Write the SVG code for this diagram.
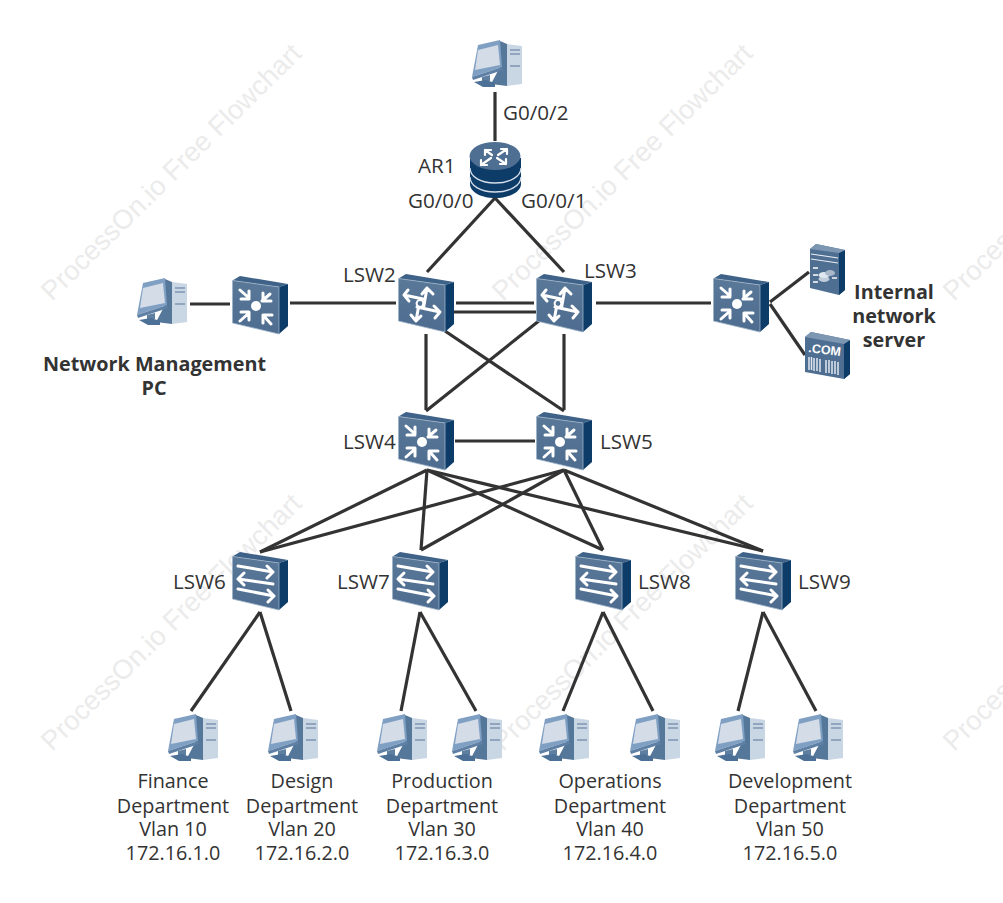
<svg xmlns="http://www.w3.org/2000/svg" width="1003" height="903" viewBox="0 0 1003 903">
<style>
text{font-family:"Open Sans","Noto Sans","Liberation Sans",sans-serif;font-size:19.8px;fill:#333}
.k{font-size:20.6px}
.b{font-weight:700}
.m{text-anchor:middle}
.wm{font-family:"Liberation Sans",Arial,sans-serif;font-size:27.2px;fill:#ebebeb}
.c line{stroke:#333;stroke-width:3.2;fill:none}
.g{fill:none;stroke:#fff;stroke-width:3;stroke-linecap:round;stroke-linejoin:round}
</style>
<defs>
<linearGradient id="fr" x1="0" y1="0" x2="0" y2="1"><stop offset="0" stop-color="#5a7898"/><stop offset="1" stop-color="#4d6c8f"/></linearGradient>
<g id="box">
<path d="M0.5 4.5L8 0L56 8L47 11Z" fill="#3f6288"/>
<path d="M47 11L56 8V50L47 58Z" fill="#0d3c69"/>
<path d="M0.5 4.5L47 11V58L0.5 47Z" fill="url(#fr)" stroke="#9db2c8" stroke-width="0.8"/>
</g>
<g id="core">
<use href="#box"/>
<circle cx="24" cy="30" r="5" fill="#fff"/>
<path class="g" d="M8 14L17 22M9 23H17V15M38 18L30 25M31 17V25H39M8 45L17 37M9 36H17V44M39 48L31 39M31 47V39H40"/>
</g>
<g id="l3">
<use href="#box"/>
<circle cx="22" cy="29.5" r="3.4" fill="none" stroke="#fff" stroke-width="2"/>
<path class="g" d="M10 16L6 21L11 27M6 21L25 25M24 20L29 14L35 20M29 14L25.5 34M36 32L42 38L37 44M42 38L19 33M13 41L18 47L23 42M18 47L20.5 33"/>
</g>
<g id="l2">
<use href="#box"/>
<path class="g" d="M6 14L41 20M35 14L41 20L35 26M41 32L6 27M12 21L6 27L12 33M6 37L42 44M36 38L42 44L36 50"/>
</g>
<g id="pc">
<path d="M31 2L38 5V47L22 45L31 28Z" fill="#557799"/>
<path d="M9 6L31 1L33 28L3 38Z" fill="#7f9fc3"/>
<path d="M3 38L33 28L34 31L4 41Z" fill="#5f80a5"/>
<path d="M9 11L29 6L31 26L6 31Z" fill="#d3dce7"/>
<path d="M13 38L21 36V42H13Z" fill="#5f7fa0"/>
<path d="M5 43L17 41L26 44V48L14 48Z" fill="#4d7097"/>
<path d="M38 5L53 7V45L38 47Z" fill="#c9d6e4"/>
<path d="M41 11H51M41 15H51M41 27H51" stroke="#7f97b1" stroke-width="1.3"/>
</g>
<g id="t">
<path d="M0 5L6 0L35 6V46L29 51L0 44Z" fill="#4f6f92"/>
<path d="M29 9L35 6V46L29 51Z" fill="#0d3c69"/>
<path d="M0 5L6 0L35 6L29 9Z" fill="#7d97b3"/>
<path d="M1 10L28 14M1 15L28 19" stroke="#e6ecf3" stroke-width="1.2"/>
<path d="M3 24H8M3 31H8M3 38H8" stroke="#fff" stroke-width="1.4"/>
<ellipse cx="14" cy="35" rx="5.5" ry="3" fill="#c0ccd9"/>
<ellipse cx="14" cy="31" rx="5.5" ry="3" fill="#dfe7ef"/>
<ellipse cx="20" cy="29" rx="5" ry="3" fill="#a9b9ca"/>
<path d="M22 34H27" stroke="#fff" stroke-width="1.4"/>
</g>
<g id="com">
<path d="M0 5L6 0L45 8V42L39 47L0 40Z" fill="#4f6f92"/>
<path d="M39 12L45 8V42L39 47Z" fill="#0d3c69"/>
<path d="M0 5L6 0L45 8L39 12Z" fill="#7d97b3"/>
<path d="M4 25V38M6.5 25V38M9 26V39M12 26V39M15 27V40M21 28V41M24 28V41M27 29V42M30 29V42M33 30V43" stroke="#dfe7ef" stroke-width="1.5"/>
</g>
</defs>

<g id="watermark">
<text class="wm" transform="translate(52,302) rotate(-44.5)">ProcessOn.io Free Flowchart</text>
<text class="wm" transform="translate(503,302) rotate(-44.5)">ProcessOn.io Free Flowchart</text>
<text class="wm" transform="translate(954,302) rotate(-44.5)">ProcessOn.io Free Flowchart</text>
<text class="wm" transform="translate(52,752) rotate(-44.5)">ProcessOn.io Free Flowchart</text>
<text class="wm" transform="translate(503,752) rotate(-44.5)">ProcessOn.io Free Flowchart</text>
<text class="wm" transform="translate(954,752) rotate(-44.5)">ProcessOn.io Free Flowchart</text>
</g>

<g id="connectors" class="c">
<line x1="495" y1="92" x2="495" y2="141"/>
<line x1="495" y1="198" x2="427" y2="272"/>
<line x1="495" y1="198" x2="564" y2="272"/>
<line x1="190" y1="304" x2="230" y2="304"/>
<line x1="290" y1="303" x2="396" y2="303"/>
<line x1="456" y1="303" x2="534" y2="303"/>
<line x1="454" y1="312" x2="536" y2="312"/>
<line x1="596" y1="303" x2="711" y2="303"/>
<line x1="426" y1="334" x2="426" y2="410"/>
<line x1="564" y1="334" x2="564" y2="410"/>
<line x1="445" y1="331" x2="564" y2="411"/>
<line x1="540" y1="320" x2="426" y2="411"/>
<line x1="455" y1="441" x2="535" y2="441"/>
<line x1="770" y1="302" x2="809" y2="272"/>
<line x1="770" y1="304" x2="805" y2="355"/>
<line x1="427" y1="470" x2="260" y2="552"/>
<line x1="427" y1="470" x2="421" y2="550"/>
<line x1="427" y1="470" x2="603" y2="550"/>
<line x1="427" y1="470" x2="763" y2="551"/>
<line x1="564" y1="470" x2="260" y2="552"/>
<line x1="564" y1="470" x2="421" y2="550"/>
<line x1="564" y1="470" x2="603" y2="550"/>
<line x1="564" y1="470" x2="763" y2="551"/>
<line x1="260" y1="612" x2="191" y2="711"/>
<line x1="260" y1="612" x2="291" y2="711"/>
<line x1="420" y1="612" x2="401" y2="711"/>
<line x1="420" y1="612" x2="476" y2="711"/>
<line x1="603" y1="612" x2="563" y2="711"/>
<line x1="603" y1="612" x2="653" y2="711"/>
<line x1="763" y1="612" x2="738" y2="711"/>
<line x1="763" y1="612" x2="816" y2="711"/>
</g>

<g id="pc-top"><use href="#pc" x="469" y="39"/></g>
<g id="ar1">
<path d="M470 158V184C470 192 481 198 495 198C509 198 521 192 521 184V158Z" fill="#0d3c69"/>
<path d="M470 168C470 177 481 183 495 183C509 183 521 177 521 168M470 177C470 186 481 192 495 192C509 192 521 186 521 177" fill="none" stroke="#d5deea" stroke-width="1.4"/>
<ellipse cx="495" cy="156" rx="25.5" ry="14" fill="#4f6f92"/>
<path class="g" style="stroke-width:2.2" d="M485 150L492 155M485 155V150H491M507 149L498 155M501 149H507V154M481 165L491 158M481 160V165H487M506 164L497 158M500 164H506V159"/>
<text class="k" x="418" y="173">AR1</text>
<text class="k" x="503" y="120">G0/0/2</text>
<text class="k" x="408" y="208">G0/0/0</text>
<text class="k" x="521" y="208">G0/0/1</text>
</g>
<g id="pc-nm"><use href="#pc" x="134" y="277"/>
<text class="b m" x="154.500" y="371">Network Management</text><text class="b m" x="154" y="395">PC</text></g>
<g id="sw-left"><use href="#core" x="232" y="276"/></g>
<g id="lsw2"><use href="#l3" x="398" y="274"/><text class="k" x="343" y="282">LSW2</text></g>
<g id="lsw3"><use href="#l3" x="536" y="274"/><text class="k" x="584" y="278">LSW3</text></g>
<g id="sw-right"><use href="#core" x="713" y="274"/></g>
<g id="srv1"><use href="#t" x="810" y="244"/></g>
<g id="srv2"><use href="#com" x="805" y="332"/>
<text transform="translate(808,352) rotate(7)" style="font-family:'Liberation Sans',sans-serif;font-size:12.5px;font-weight:700;fill:#fff">.COM</text></g>
<text class="b m" x="894" y="299">Internal</text>
<text class="b m" x="894" y="323">network</text>
<text class="b m" x="894" y="347">server</text>
<g id="lsw4"><use href="#core" x="398" y="412"/><text class="k" x="343" y="449">LSW4</text></g>
<g id="lsw5"><use href="#core" x="536" y="412"/><text class="k" x="600" y="449">LSW5</text></g>
<g id="lsw6"><use href="#l2" x="232" y="552"/><text class="k" x="173" y="589">LSW6</text></g>
<g id="lsw7"><use href="#l2" x="392" y="552"/><text class="k" x="337" y="589">LSW7</text></g>
<g id="lsw8"><use href="#l2" x="575" y="552"/><text class="k" x="638" y="589">LSW8</text></g>
<g id="lsw9"><use href="#l2" x="735" y="552"/><text class="k" x="798" y="589">LSW9</text></g>
<g id="pc1"><use href="#pc" x="165" y="713"/></g>
<g id="pc2"><use href="#pc" x="265" y="713"/></g>
<g id="pc3"><use href="#pc" x="374" y="713"/></g>
<g id="pc4"><use href="#pc" x="449" y="713"/></g>
<g id="pc5"><use href="#pc" x="536" y="713"/></g>
<g id="pc6"><use href="#pc" x="627" y="713"/></g>
<g id="pc7"><use href="#pc" x="712" y="713"/></g>
<g id="pc8"><use href="#pc" x="790" y="713"/></g>
<g id="labels">
<text class="m" x="173" y="788">Finance</text><text class="m" x="173" y="813">Department</text><text class="m" x="173" y="836">Vlan 10</text><text class="m" x="173" y="860">172.16.1.0</text>
<text class="m" x="302" y="788">Design</text><text class="m" x="302" y="813">Department</text><text class="m" x="302" y="836">Vlan 20</text><text class="m" x="302" y="860">172.16.2.0</text>
<text class="m" x="442" y="788">Production</text><text class="m" x="442" y="813">Department</text><text class="m" x="442" y="836">Vlan 30</text><text class="m" x="442" y="860">172.16.3.0</text>
<text class="m" x="610" y="788">Operations</text><text class="m" x="610" y="813">Department</text><text class="m" x="610" y="836">Vlan 40</text><text class="m" x="610" y="860">172.16.4.0</text>
<text class="m" x="790" y="788">Development</text><text class="m" x="790" y="813">Department</text><text class="m" x="790" y="836">Vlan 50</text><text class="m" x="790" y="860">172.16.5.0</text>
</g>
</svg>
